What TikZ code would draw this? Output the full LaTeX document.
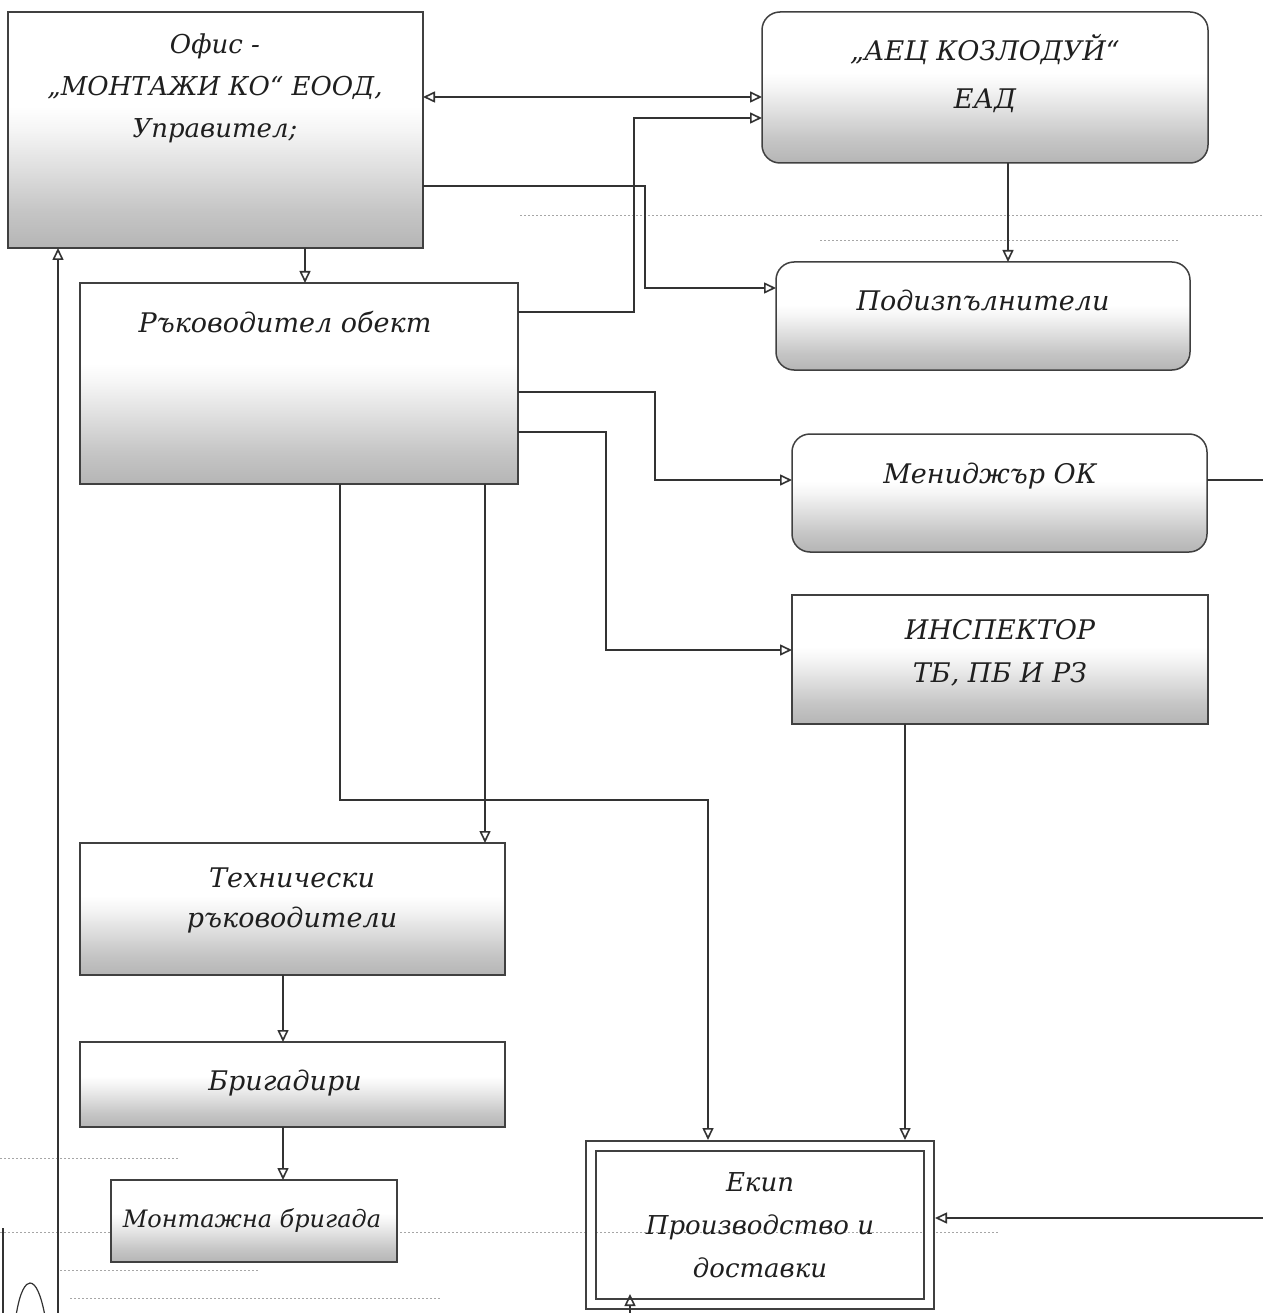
\documentclass[tikz,border=0pt]{standalone}
\usepackage{fontspec}
\setmainfont{DejaVu Serif}
\usetikzlibrary{arrows.meta}
\pgfdeclareverticalshading{boxfade}{100bp}{color(0bp)=(gray!58); color(25bp)=(gray!58); color(33bp)=(gray!45); color(42bp)=(gray!25); color(50bp)=(gray!8); color(55bp)=(white); color(75bp)=(white); color(100bp)=(white)}
\tikzset{
  box/.style={draw=black!75, line width=1.5pt, shading=boxfade, inner sep=0pt, outer sep=0pt},
  rbox/.style={box, rounded corners=18pt},
  ebox/.style={draw=black!75, line width=2.2pt, double=white, double distance=8pt, inner sep=0pt, outer sep=0pt},
  lbl/.style={font=\itshape\fontsize{27}{42}\selectfont, align=center, text=black!88, inner sep=0pt},
  tip/.tip={Triangle[open,length=12pt,width=11pt,line width=1.6pt]},
  conn/.style={draw=black!80, line width=2.1pt, -tip},
  biconn/.style={draw=black!80, line width=2.1pt, tip-tip},
  faint/.style={draw=black!35, line width=0.8pt, dash pattern=on 1.5pt off 2.5pt}
}
\begin{document}
\begin{tikzpicture}[x=1pt,y=-1pt]
\useasboundingbox (0,0) rectangle (1262,1313);
\fill[white] (0,0) rectangle (1262,1313);

% faint scan guide lines
\draw[faint] (520,215) -- (1262,215);
\draw[faint] (820,240) -- (1180,240);
\draw[faint] (0,1158) -- (180,1158);
\draw[faint] (0,1232) -- (1000,1232);
\draw[faint] (60,1270) -- (260,1270);
\draw[faint] (70,1298) -- (440,1298);

% boxes
\node[box, minimum width=415pt, minimum height=236pt] (ofis) at (215.5,130) {};
\node[rbox, minimum width=446pt, minimum height=151pt] (aec) at (985,87.5) {};
\node[rbox, minimum width=414pt, minimum height=108pt] (podiz) at (983,316) {};
\node[box, minimum width=438pt, minimum height=201pt] (ruk) at (299,383.5) {};
\node[rbox, minimum width=415pt, minimum height=118pt] (men) at (999.5,493) {};
\node[box, minimum width=416pt, minimum height=129pt] (insp) at (1000,659.5) {};
\node[box, minimum width=425pt, minimum height=132pt] (tehn) at (292.5,909) {};
\node[box, minimum width=425pt, minimum height=85pt] (brig) at (292.5,1084.5) {};
\node[box, minimum width=286pt, minimum height=82pt] (mont) at (254,1221) {};
\node[ebox, minimum width=338pt, minimum height=158pt] (ekip) at (760,1225) {};

% texts
\node[lbl, font=\itshape\fontsize{26}{42}\selectfont] (ofist) at (215,88) {Офис -\\„МОНТАЖИ КО“ ЕООД,\\Управител;};
\node[lbl, font=\itshape\fontsize{27}{48}\selectfont] (aect) at (985,74) {„АЕЦ КОЗЛОДУЙ“\\ЕАД};
\node[lbl] (podizt) at (983,300) {Подизпълнители};
\node[lbl] (rukt) at (285,322) {Ръководител обект};
\node[lbl] (ment) at (990,476) {Мениджър ОК};
\node[lbl, font=\itshape\fontsize{27}{43}\selectfont] (inspt) at (1000,653) {ИНСПЕКТОР\\ТБ, ПБ И РЗ};
\node[lbl, font=\itshape\fontsize{27}{40}\selectfont] (tehnt) at (292,900) {Технически\\ръководители};
\node[lbl] (brigt) at (285,1083) {Бригадири};
\node[lbl, font=\itshape\fontsize{24}{30}\selectfont] (montt) at (252,1221) {Монтажна бригада};
\node[lbl, font=\itshape\fontsize{26}{43}\selectfont] (ekipt) at (760,1225) {Екип\\Производство и\\доставки};

% connectors
\draw[biconn] (ofis.east |- 0,97) -- (aec.west |- 0,97);
\draw[conn] (ruk.east |- 0,312) -| (634,118) -- (aec.west |- 0,118);
\draw[conn] (ofis.east |- 0,186) -| (645,288) -- (podiz.west |- 0,288);
\draw[conn] (aec.south -| 1008,0) -- (podiz.north -| 1008,0);
\draw[conn] (ofis.south -| 305,0) -- (ruk.north -| 305,0);
\draw[conn] (ruk.east |- 0,392) -| (655,480) -- (men.west |- 0,480);
\draw[conn] (ruk.east |- 0,432) -| (606,650) -- (insp.west |- 0,650);
\draw[conn] (men.east |- 0,480) -- (1290,480) -- (1290,1218) -- ([xshift=6pt]ekip.east |- 0,1218);
\draw[conn] (insp.south -| 905,0) -- ([yshift=6pt]ekip.north -| 905,0);
\draw[conn] (ruk.south -| 340,0) |- (708,800) -- ([yshift=6pt]ekip.north -| 708,0);
\draw[conn] (ruk.south -| 485,0) -- (tehn.north -| 485,0);
\draw[conn] (tehn.south -| 283,0) -- (brig.north -| 283,0);
\draw[conn] (brig.south -| 283,0) -- (mont.north -| 283,0);
\draw[conn] (58,1330) -- (ofis.south -| 58,0);
\draw[conn] (630,1330) -- ([yshift=10pt]ekip.south -| 630,0);

% partial shapes at lower left edge
\draw[black!80, line width=1.4pt] (3,1228) -- (3,1313);
\draw[black!80, line width=1.2pt] (16,1316) .. controls (20,1290) and (26,1283) .. (30,1283) .. controls (36,1283) and (41,1295) .. (45,1316);
\end{tikzpicture}
\end{document}
